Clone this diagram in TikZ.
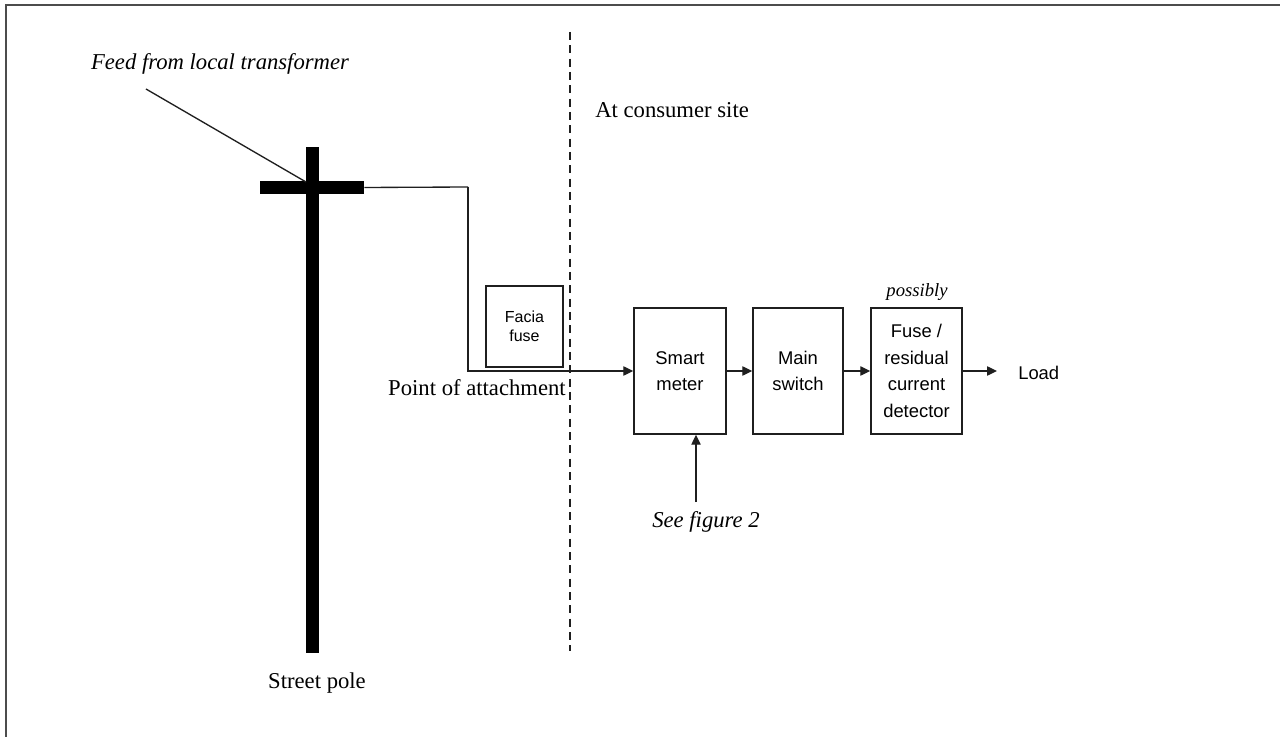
\documentclass[tikz,border=0pt]{standalone}
\usepackage{fontspec}
\setmainfont{Liberation Serif}
\newfontfamily\boxfont{Liberation Sans}
\usetikzlibrary{arrows.meta}
\begin{document}
\begin{tikzpicture}[x=0.75pt,y=-0.75pt,
  wire/.style={line width=1pt,draw=black!88},
  flow/.style={wire,-{Triangle[length=7.5pt,width=7pt]}},
  block/.style={draw=black!88,line width=1.1pt,fill=white,align=center,
    inner sep=0pt,font=\boxfont\fontsize{13.8}{20}\selectfont},
  bar/.style={fill=black,draw=none,inner sep=0pt},
  serif/.style={font=\fontsize{17}{20}\selectfont,inner sep=0pt},
  slant/.style={font=\itshape\fontsize{17}{20}\selectfont,inner sep=0pt}]
\useasboundingbox (0,0) rectangle (1280,737);
\fill[white] (0,0) rectangle (1280,737);
% frame edges
\draw[line width=1.3pt,draw=black!70] (6,737) -- (6,5) -- (1280,5);

% street pole
\node[bar,minimum width=9.75pt,minimum height=379.5pt] (pole) at (312.5,400) {};
\node[bar,minimum width=78pt,minimum height=9.75pt] (arm) at (312,187.5) {};
\node[serif] (poletxt) at (317,683) {Street pole};

% feed
\node[slant] (feedtxt) at (220,64) {Feed from local transformer};
\coordinate (feedA) at (146,89);
\coordinate (feedB) at (306,182);
\draw[wire] (feedA) -- (feedB);

% boundary
\coordinate (bndtop) at (570,32);
\coordinate (bndbot) at (570,651);
\draw[wire,dashed,dash pattern=on 6pt off 4pt] (bndtop) -- (bndbot);
\node[serif,anchor=west] (site) at (595,110) {At consumer site};

% facia fuse
\node[block,minimum width=57.75pt,minimum height=60.75pt,
  font=\boxfont\fontsize{12}{14.5}\selectfont] (facia) at (524.5,326.5) {Facia\\fuse};
\node[serif,anchor=east] (poa) at (566,388) {Point of attachment};

% consumer chain
\node[block,minimum width=69pt,minimum height=94.5pt] (meter) at (680,371) {Smart\\meter};
\node[block,minimum width=67.5pt,minimum height=94.5pt] (switch) at (798,371) {Main\\switch};
\node[block,minimum width=68.25pt,minimum height=94.5pt] (rcd) at (916.5,371) {Fuse /\\residual\\current\\detector};
\node[font=\itshape\fontsize{14}{16}\selectfont,inner sep=0pt] (maybe) at (917,292) {possibly};
\node[font=\boxfont\fontsize{13.8}{16}\selectfont,inner sep=0pt,anchor=west] (load) at (1018,373) {Load};
\coordinate (loadend) at (997,371);

% service wire
\coordinate (drop) at (468,187);
\draw[wire] (arm.east) -- (drop);
\draw[flow] (drop) |- (meter.west);
\draw[flow] (meter) -- (switch);
\draw[flow] (switch) -- (rcd);
\draw[flow] (rcd) -- (loadend);

% reference to figure 2
\node[slant] (fig2) at (706,522) {See figure 2};
\coordinate (fig2top) at (696,502);
\draw[flow] (fig2top) -- (fig2top |- meter.south);
\end{tikzpicture}
\end{document}
